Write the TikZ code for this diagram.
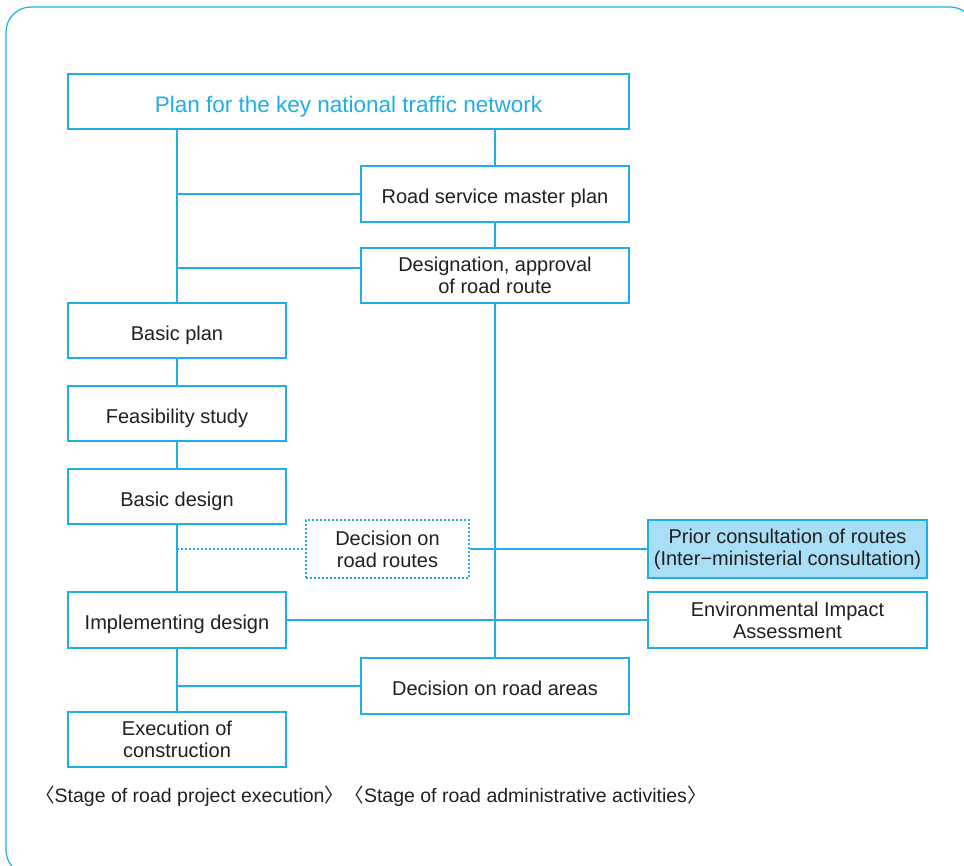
\documentclass[tikz,border=0pt]{standalone}
\usepackage{fontspec}
\setmainfont{Liberation Sans}
\newfontfamily\cjkbr{Noto Sans CJK SC}
\definecolor{linecyan}{HTML}{1FAEE5}
\definecolor{boxfill}{HTML}{A8DEF6}
\definecolor{ink}{HTML}{231F20}
\newcommand{\lbr}{{\cjkbr 〈}}
\newcommand{\rbr}{{\cjkbr 〉}}
\begin{document}
\begin{tikzpicture}[x=1pt,y=-1pt,
  every node/.style={text=ink, font=\fontsize{20}{22}\selectfont},
  box/.style={draw=linecyan, line width=1.6pt, fill=white, align=center, inner sep=2pt},
  oneline/.style={text height=19.5pt, text depth=0pt},
  wide/.style={minimum width=268pt, minimum height=55pt},
  narrow/.style={minimum width=218pt, minimum height=55pt},
  side/.style={minimum width=279pt, minimum height=56pt},
  dotbox/.style={draw=linecyan, line width=1.5pt, dash pattern=on 2pt off 2pt, fill=white,
    align=center, minimum width=163pt, minimum height=58pt, inner sep=2pt},
  link/.style={draw=linecyan, line width=1.6pt},
  dotlink/.style={draw=linecyan, line width=1.6pt, dash pattern=on 2pt off 2pt},
  caption/.style={anchor=base west, inner sep=0pt, font=\fontsize{19.5}{22}\selectfont}]
\useasboundingbox (0,0) rectangle (964,865);
\begin{scope}
  \clip (0,0) rectangle (964,865);
  \draw[linecyan, line width=1.2pt, rounded corners=25pt] (6,7) rectangle (975,875);
\end{scope}

% project execution column
\node[box, minimum width=561pt, minimum height=55pt, text=linecyan, text height=21.5pt, text depth=0pt,
  font=\fontsize{22.5}{24}\selectfont] (top) at (348.5,101.5) {Plan for the key national traffic network};
\node[box, narrow, oneline] (bp)   at (177,330.5) {Basic plan};
\node[box, narrow, oneline] (feas) at (177,413.5) {Feasibility study};
\node[box, narrow, oneline] (bd)   at (177,496.5) {Basic design};
\node[box, narrow, oneline, minimum height=56pt] (impl) at (177,620) {Implementing design};
\node[box, narrow] (exec) at (177,739.5) {Execution of\\construction};

% administrative column
\node[box, wide, oneline, minimum height=56pt] (rsm)   at (495,194) {Road service master plan};
\node[box, wide] (desig) at (495,275.5) {Designation, approval\\of road route};
\node[box, wide, oneline, minimum height=56pt] (areas) at (495,686) {Decision on road areas};
\node[dotbox] (dr) at (387.5,549) {Decision on\\road routes};

% consultation boxes
\node[box, side, fill=boxfill, minimum height=58pt] (prior) at (787.5,549)
  {Prior consultation of routes\\(Inter−ministerial consultation)};
\node[box, side] (eia) at (787.5,620) {Environmental Impact\\Assessment};

% connectors
\coordinate (desigin) at ([yshift=7.5pt]desig.west);
\draw[link] (top.south -| bp.north) -- (bp.north);
\draw[link] (bp.north |- rsm.west) -- (rsm.west);
\draw[link] (bp.north |- desigin) -- (desigin);
\draw[link] (top.south -| rsm.north) -- (rsm.north);
\draw[link] (rsm.south) -- (desig.north);
\draw[link] (desig.south) -- (areas.north);
\draw[link] (bp.south) -- (feas.north);
\draw[link] (feas.south) -- (bd.north);
\draw[link] (bd.south) -- (impl.north);
\draw[link] (impl.south) -- (exec.north);
\draw[dotlink] (bd.south |- dr.west) -- (dr.west);
\draw[link] (dr.east) -- (prior.west);
\draw[link] (impl.east) -- (eia.west);
\draw[link] (impl.south |- areas.west) -- (areas.west);

% stage captions
\node[caption] (cap1) at (35,802) {\lbr Stage of road project execution\rbr};
\node[caption] (cap2) at (cap1.base east) {\lbr Stage of road administrative activities\rbr};
\end{tikzpicture}
\end{document}
